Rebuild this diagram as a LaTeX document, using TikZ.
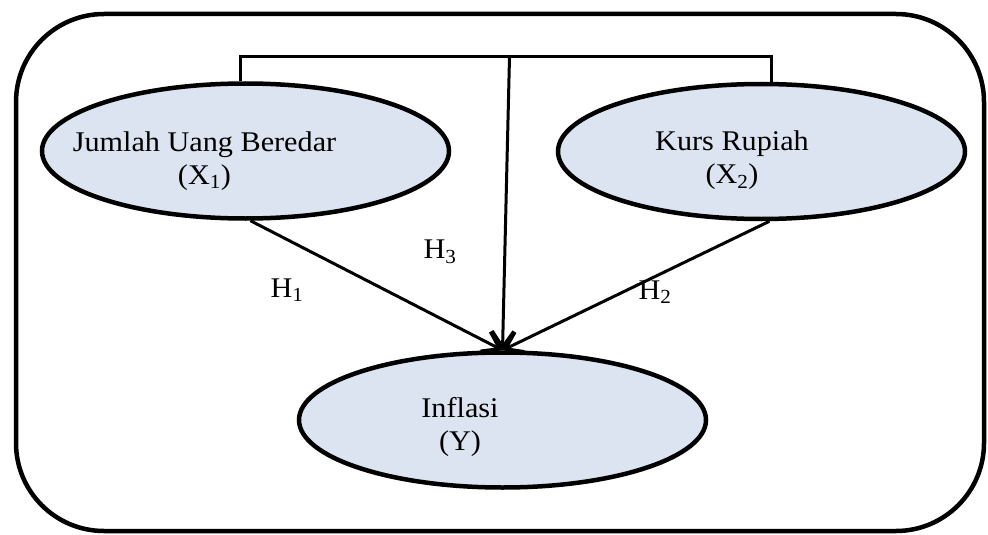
\documentclass[tikz,border=0pt]{standalone}
\usepackage{fontspec}
\setmainfont{Liberation Serif}[FakeStretch=1.06]
\usetikzlibrary{shapes.geometric,arrows.meta}
\definecolor{varfill}{RGB}{219,228,240}
\tikzset{
  var/.style={ellipse, draw, fill=varfill, line width=4.5pt, inner sep=0pt,
    minimum width=407pt, minimum height=135pt},
  txt/.style={align=center, font=\fontsize{28.5}{33}\selectfont},
  conn/.style={line width=3pt},
  arr/.style={conn, -{Straight Barb[length=16pt,width=22pt,line width=3.5pt]}}
}
\begin{document}
\begin{tikzpicture}[x=1pt,y=-1pt]
  \useasboundingbox (0,0) rectangle (988,535);
  % frame
  \draw[line width=4.5pt, rounded corners=88pt] (16,14) rectangle (984,531);
  % variables
  \node[var] (x1) at (245.5,151) {};
  \node[var] (x2) at (761.5,151.5) {};
  \node[var] (y) at (502.5,420) {};
  \node[txt] (x1t) at (204.5,161) {Jumlah Uang Beredar\\(X\textsubscript{1})};
  \node[txt] (x2t) at (732,160.5) {Kurs Rupiah\\(X\textsubscript{2})};
  \node[txt] (yt) at (460,427) {Inflasi\\(Y)};
  % joint effect
  \coordinate (brk) at (509.5,57);
  \draw[conn] ([xshift=-5pt]x1.north) |- (brk) -| ([xshift=10pt]x2.north);
  \draw[arr] (brk) -- (y.north);
  % partial effects
  \draw[arr] ([xshift=5pt]x1.south) -- (y.north);
  \draw[arr] ([xshift=8pt]x2.south) -- (y.north);
  \node[txt] (h1) at (287,290) {H\textsubscript{1}};
  \node[txt] (h2) at (655,292) {H\textsubscript{2}};
  \node[txt] (h3) at (440,252) {H\textsubscript{3}};
\end{tikzpicture}
\end{document}
